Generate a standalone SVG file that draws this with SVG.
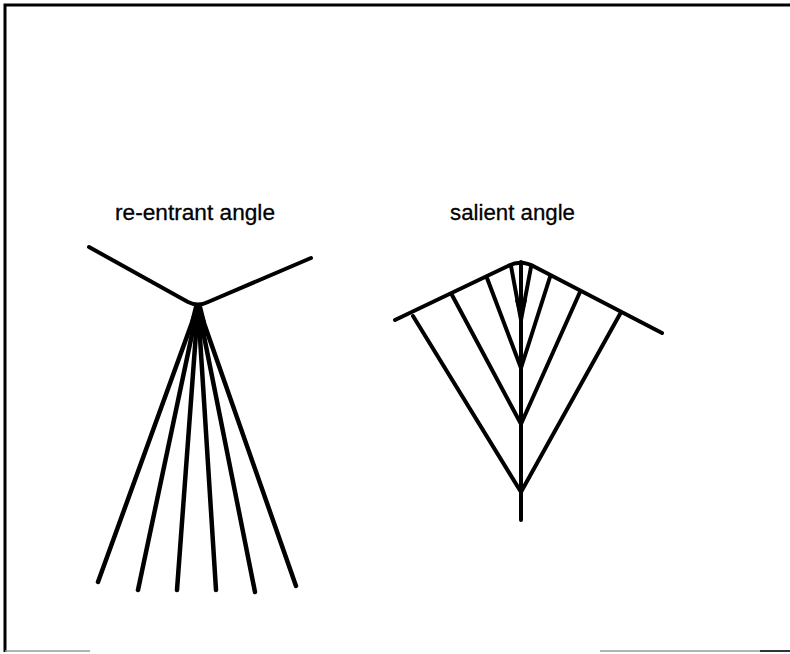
<svg xmlns="http://www.w3.org/2000/svg" width="790" height="654" viewBox="0 0 790 654">
<style>
.ln{fill:none;stroke:#000;stroke-width:4;stroke-linecap:round;stroke-linejoin:round}
.fan{fill:none;stroke:#000;stroke-width:4.5;stroke-linecap:round}
.lbl{font-family:"Liberation Sans",Arial,sans-serif;font-size:22.5px;fill:#000;stroke:#000;stroke-width:0.3}
</style>
<rect width="790" height="654" fill="#fff"/>
<g id="frame">
<path d="M5,652 L5,5 L790,5" fill="none" stroke="#000" stroke-width="3"/>
<path d="M5,651 L90,651 M600,651 L790,651" fill="none" stroke="#999" stroke-width="1.5"/>
<path d="M760,651 L790,651" fill="none" stroke="#333" stroke-width="2"/>
</g>
<g id="reentrant">
<text class="lbl" x="115" y="220" textLength="160" lengthAdjust="spacingAndGlyphs">re-entrant angle</text>
<path class="ln" d="M89,247 L188,302 Q198,307 208,302 L311,258"/>
<polygon points="194,306 202,306 206,322 190,322" fill="#000"/>
<g class="fan">
<path d="M198,306 L98,582"/>
<path d="M198,306 L138,590"/>
<path d="M198,306 L177,590"/>
<path d="M198,306 L216,590"/>
<path d="M198,306 L255,592"/>
<path d="M198,306 L296,586"/>
</g>
</g>
<g id="salient">
<text class="lbl" x="450" y="220" textLength="125" lengthAdjust="spacingAndGlyphs">salient angle</text>
<path class="ln" d="M395,320 L508,266 Q521,259 535,267 L662,333"/>
<g class="ln">
<path d="M521,262 L521,520"/>
<path d="M511,266 L521,320 L531,267"/>
<path d="M487,278 L521,368 L550,277"/>
<path d="M452,295 L521,424 L580,292"/>
<path d="M413,316 L521,492 L620,314"/>
</g>
<polygon points="515,300 527,300 521,322" fill="#000"/>
</g>
</svg>
